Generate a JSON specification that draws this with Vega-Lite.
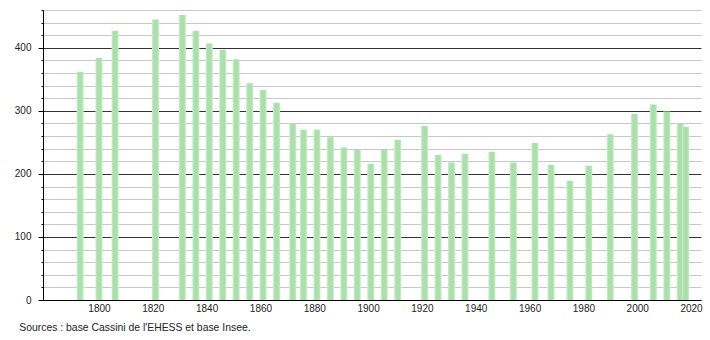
{
  "$schema": "https://vega.github.io/schema/vega-lite/v6.json",
  "width": 658,
  "height": 290,
  "autosize": {"type": "none"},
  "padding": {"left": 43, "top": 10, "right": 9, "bottom": 40},
  "background": "white",
  "config": {"view": {"stroke": null}},
  "title": {
    "text": "Sources : base Cassini de l'EHESS et base Insee.",
    "orient": "bottom",
    "anchor": "start",
    "dx": 5,
    "offset": 10,
    "font": "Liberation Sans",
    "fontSize": 10.4,
    "fontWeight": "normal",
    "color": "#222222"
  },
  "data": {
    "values": [
      {"year": 1793, "pop": 362},
      {"year": 1800, "pop": 384},
      {"year": 1806, "pop": 427},
      {"year": 1821, "pop": 445},
      {"year": 1831, "pop": 452},
      {"year": 1836, "pop": 427},
      {"year": 1841, "pop": 407},
      {"year": 1846, "pop": 397},
      {"year": 1851, "pop": 382},
      {"year": 1856, "pop": 344},
      {"year": 1861, "pop": 333},
      {"year": 1866, "pop": 313},
      {"year": 1872, "pop": 280},
      {"year": 1876, "pop": 270},
      {"year": 1881, "pop": 270},
      {"year": 1886, "pop": 258},
      {"year": 1891, "pop": 242},
      {"year": 1896, "pop": 238},
      {"year": 1901, "pop": 216},
      {"year": 1906, "pop": 238},
      {"year": 1911, "pop": 254},
      {"year": 1921, "pop": 276},
      {"year": 1926, "pop": 230},
      {"year": 1931, "pop": 218},
      {"year": 1936, "pop": 232},
      {"year": 1946, "pop": 235},
      {"year": 1954, "pop": 218},
      {"year": 1962, "pop": 249},
      {"year": 1968, "pop": 214},
      {"year": 1975, "pop": 189},
      {"year": 1982, "pop": 213},
      {"year": 1990, "pop": 263},
      {"year": 1999, "pop": 295},
      {"year": 2006, "pop": 310},
      {"year": 2011, "pop": 299},
      {"year": 2016, "pop": 279},
      {"year": 2018, "pop": 275}
    ]
  },
  "mark": {
    "type": "bar",
    "size": 7,
    "color": {
      "gradient": "linear",
      "x1": 0, "x2": 1, "y1": 0, "y2": 0,
      "stops": [
        {"offset": 0, "color": "#cdeecd"},
        {"offset": 0.25, "color": "#aae0aa"},
        {"offset": 0.75, "color": "#aae0aa"},
        {"offset": 1, "color": "#cdeecd"}
      ]
    }
  },
  "encoding": {
    "x": {
      "field": "year",
      "type": "quantitative",
      "scale": {"domain": [1779.2, 2023.7], "nice": false, "zero": false, "padding": 0},
      "axis": {
        "title": null,
        "values": [1800, 1820, 1840, 1860, 1880, 1900, 1920, 1940, 1960, 1980, 2000, 2020],
        "format": "d",
        "grid": false,
        "ticks": false,
        "labelPadding": 3,
        "labelFont": "Liberation Sans",
        "labelFontSize": 10,
        "labelColor": "#222222",
        "domainColor": "#000000"
      }
    },
    "y": {
      "field": "pop",
      "type": "quantitative",
      "scale": {"domain": [0, 460], "nice": false},
      "axis": {
        "title": null,
        "values": [0, 20, 40, 60, 80, 100, 120, 140, 160, 180, 200, 220, 240, 260, 280, 300, 320, 340, 360, 380, 400, 420, 440, 460],
        "labelExpr": "datum.value % 100 === 0 ? datum.label : ''",
        "grid": true,
        "gridColor": {"condition": {"test": "datum.value % 100 === 0", "value": "#333333"}, "value": "#c8c8c8"},
        "tickSize": {"condition": {"test": "datum.value % 100 === 0", "value": 5}, "value": 2},
        "tickColor": "#000000",
        "labelPadding": 7,
        "labelFont": "Liberation Sans",
        "labelFontSize": 10,
        "labelColor": "#222222",
        "domainColor": "#000000"
      }
    }
  }
}
